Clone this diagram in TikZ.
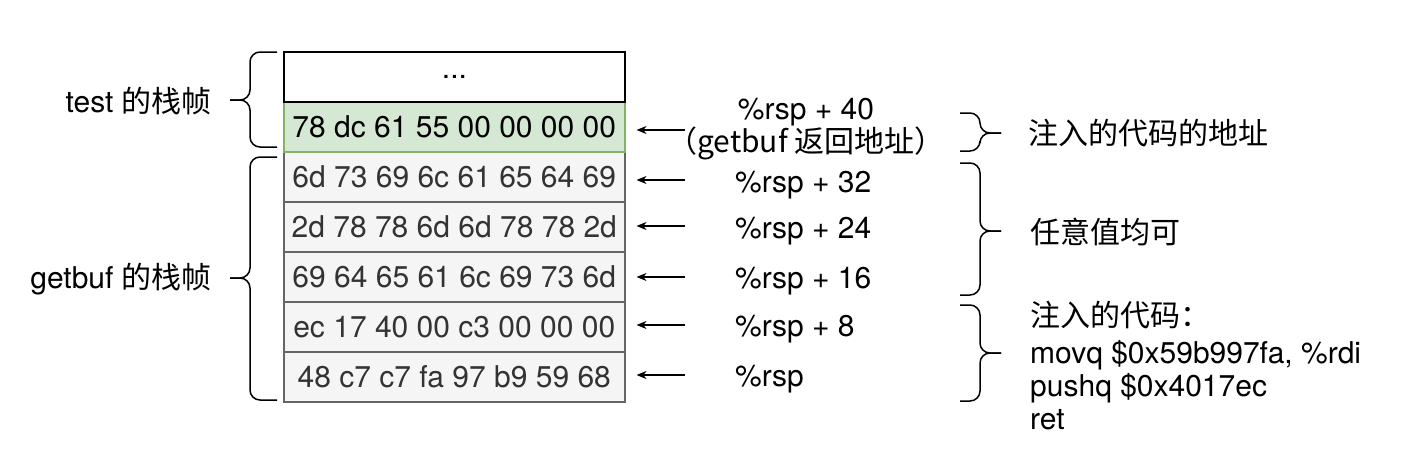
\documentclass[tikz,border=0pt]{standalone}
\usepackage{fontspec}
\setmainfont{TeX Gyre Heros}
\newfontfamily\cjk{Noto Sans CJK SC}
\usetikzlibrary{arrows.meta,positioning}

\definecolor{cellfill}{HTML}{F5F5F5}
\definecolor{cellline}{HTML}{666666}
\definecolor{celltext}{HTML}{333333}
\definecolor{retfill}{HTML}{D5E8D4}
\definecolor{retline}{HTML}{82B366}

\tikzset{
  cell/.style={draw=cellline, fill=cellfill, text=celltext, line width=1.5pt,
    minimum width=341pt, minimum height=50pt, inner sep=0pt, anchor=north west},
  retcell/.style={cell, draw=retline, fill=retfill, text=black},
  topcell/.style={cell, draw=black, fill=white, text=black, line width=2pt},
  ptr/.style={{Stealth[length=10pt,width=8pt]}-, line width=1.8pt, shorten <=11pt},
  lbl/.style={inner sep=0pt, anchor=west},
  brace/.style={line width=1.5pt, rounded corners=10pt},
}

% curly brackets: top y, bottom y, tip y
\newcommand{\leftbrace}[3]{%
  \draw[brace] (277,#1) -- (250,#1) -- (250,#3) -- (230,#3);
  \draw[brace] (277,#2) -- (250,#2) -- (250,#3) -- (230,#3);}
\newcommand{\rightbrace}[3]{%
  \draw[brace] (960,#1) -- (980,#1) -- (980,#3) -- (1001,#3);
  \draw[brace] (960,#2) -- (980,#2) -- (980,#3) -- (1001,#3);}

\begin{document}
\begin{tikzpicture}[x=1pt, y=-1pt, font=\fontsize{30}{33}\selectfont]
    \useasboundingbox (0,0) rectangle (1403,453);

    % Stack cells
    \foreach \off/\bytes [count=\i] in {32/6d 73 69 6c 61 65 64 69,
        24/2d 78 78 6d 6d 78 78 2d, 16/69 64 65 61 6c 69 73 6d,
        8/ec 17 40 00 c3 00 00 00, 0/48 c7 c7 fa 97 b9 59 68}
        \node[cell] (row\off) at (283,101+50*\i) {\bytes};
    \node[retcell] (row40) at (283,101) {78 dc 61 55 00 00 00 00};
    \node[topcell] (dots) at (283,51) {...};

    % Pointers into the stack
    \foreach \off/\y in {40/130, 32/180, 24/226, 16/277, 8/325, 0/375} {
        \coordinate (p\off) at (685,\y);
        \draw[ptr] (row\off.east |- p\off) -- (p\off);
    }
    \node[lbl, right=50pt of p32, yshift=-5pt] (l32) {\%rsp + 32};
    \node[lbl, right=50pt of p24, yshift=-5pt] (l24) {\%rsp + 24};
    \node[lbl, right=50pt of p16, yshift=-4pt] (l16) {\%rsp + 16};
    \node[lbl, right=50pt of p8, yshift=-4pt] (l8) {\%rsp + 8};
    \node[lbl, right=50pt of p0, yshift=-4pt] (l0) {\%rsp};
    \node[align=center, inner sep=0pt] (l40) at (806,129)
        {\%rsp + 40\\\cjk{（}getbuf \cjk{返回地址）}};

    % Frames
    \leftbrace{52}{147}{100}
    \leftbrace{157}{400}{278}
    \node[inner sep=0pt, anchor=east] (testframe) at (212,101) {test \cjk{的栈帧}};
    \node[inner sep=0pt, anchor=east] (bufframe) at (212,279) {getbuf \cjk{的栈帧}};

    % Contents
    \rightbrace{113}{151}{133}
    \rightbrace{163}{295}{231}
    \rightbrace{305}{401}{353}
    \node[lbl] (addr) at (1028,133) {\cjk{注入的代码的地址}};
    \node[lbl] (any) at (1030,232) {\cjk{任意值均可}};
    \node[lbl, align=left] (code) at (1030,366)
        {\cjk{注入的代码：}\\[4pt]movq \$0x59b997fa, \%rdi\\pushq \$0x4017ec\\ret};
\end{tikzpicture}
\end{document}
